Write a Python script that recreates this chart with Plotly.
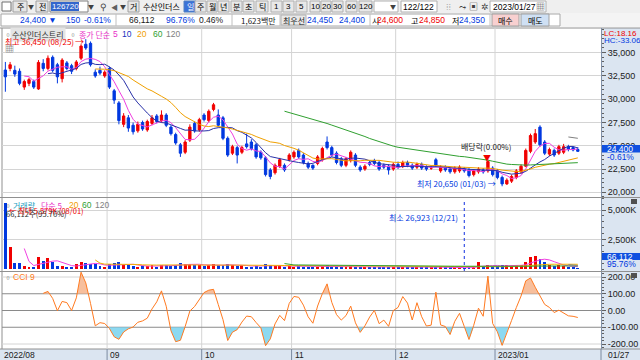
import numpy as np
import pandas as pd
import plotly.graph_objects as go

# ---------------- data (daily, 2022-08-01 .. 2023-01-27, 122 sessions) ----------------
opens = [33135, 33300, 33100, 33000, 31300, 31700, 31900, 31100, 33850, 33300, 34500, 33700, 32200, 33900, 33600, 33300, 34400, 35900, 36000, 32900, 33100, 32500,
         33300, 30900, 29600, 27300, 28000, 27200, 26600, 27500, 26700, 27400, 28200, 27700, 28300, 27000, 26200, 25100, 24300, 25600, 27400, 26700,
         28300, 27700, 28900, 28300, 28000, 25800, 24200, 24800, 24300, 25200, 25400, 25100, 24300, 23700, 22400, 22100, 22800, 22900, 23500,
         23800, 24500, 24000, 23100, 22900, 23100, 23500, 25400, 24800, 24200, 23600, 22900, 23400, 24000, 22700, 22500, 23200, 23400, 23200, 22900, 22800, 22500,
         23000, 22800, 23200, 22900, 22700, 23000, 22700, 22600, 23500, 22300, 22700, 22500, 22200, 22300, 22500, 22400, 21900, 22200, 22400, 22300, 22600,
         22300, 21600, 20900, 21200, 21600, 22200, 22800, 24400, 25400, 27000, 25400, 24100, 24500, 24200, 24300, 24900, 24800, 24600]
highs = [34000, 34000, 33600, 33300, 32100, 32300, 32100, 34200, 34300, 34700, 34700, 33900, 34400, 34100, 33800, 34200, 35900, 36450, 36200, 33200, 33500, 33100,
         33500, 31100, 29800, 28500, 28300, 27500, 27600, 27700, 27800, 28300, 28400, 28800, 28500, 27200, 26400, 25300, 25600, 27300, 27600, 28000,
         28500, 28900, 29600, 28900, 28200, 26000, 25100, 25000, 25000, 26300, 25700, 25300, 24500, 23900, 22600, 23100, 23700, 23100, 24200,
         24500, 24700, 24200, 23300, 23000, 24000, 24900, 26000, 25000, 24400, 23800, 23800, 24500, 24200, 22900, 23000, 23400, 23600, 23400, 23100, 23000, 23200,
         23300, 23400, 23400, 23100, 23200, 23200, 22900, 22900, 23700, 22900, 22900, 22700, 22800, 22900, 22700, 22600, 22500, 22700, 22600, 23500, 22800,
         22500, 21800, 21500, 21900, 22500, 23000, 24700, 26300, 26800, 27200, 25600, 24800, 24700, 25100, 25200, 25100, 24900, 24850]
lows = [30800, 33000, 32400, 31500, 31000, 31400, 31100, 31000, 33000, 33100, 32900, 31700, 31800, 33100, 32700, 33100, 34200, 35300, 33500, 32300, 32600, 32300,
        31100, 29500, 27300, 27000, 26500, 26200, 26400, 26600, 26500, 27200, 27400, 27500, 27000, 26100, 25100, 23800, 24100, 25400, 26400, 26500,
        27600, 27500, 28700, 27000, 25600, 23800, 24000, 23100, 24100, 24700, 24500, 23600, 23500, 21700, 21400, 21900, 22600, 22200, 23300,
        23600, 23600, 23000, 22500, 22400, 22900, 23300, 24600, 23800, 23000, 22700, 22700, 23200, 22700, 22200, 22300, 22800, 22900, 22300, 22500, 21900, 22300,
        22500, 22600, 22700, 22400, 22500, 22400, 22300, 22400, 22700, 22100, 22200, 22000, 22000, 22100, 22100, 21600, 21700, 22000, 22000, 22100, 21700,
        21400, 20650, 20800, 21000, 21400, 22000, 22700, 24200, 25200, 24900, 24000, 23900, 23800, 24000, 24100, 24400, 24400, 24350]
closes = [32400, 33700, 32700, 31700, 31900, 32100, 31300, 33950, 33300, 34400, 33100, 32400, 34200, 33300, 33000, 34000, 35700, 35500, 33700, 32500, 32800, 32900,
          31300, 29900, 27700, 28200, 26900, 26500, 27300, 26800, 27600, 28000, 27600, 28300, 27200, 26300, 25300, 24200, 25400, 27000, 26600, 27800,
          27800, 28700, 29400, 27200, 25800, 24000, 24900, 24000, 24800, 24900, 24700, 23800, 23700, 21900, 21700, 22900, 23500, 22400, 24000,
          24300, 23800, 23200, 22700, 22600, 23800, 24700, 24800, 24000, 23200, 22900, 23600, 24300, 22900, 22400, 22800, 23000, 23100, 22500, 22700, 22400, 23000,
          22700, 23200, 22900, 22600, 23000, 22600, 22500, 22600, 22900, 22700, 22400, 22200, 22600, 22700, 22300, 21800, 22300, 22500, 22200, 23300, 21900,
          21600, 20900, 21300, 21700, 22300, 22800, 24500, 26100, 26300, 25100, 24200, 24600, 24000, 24900, 24900, 24600, 24550, 24400]
volumes = [5579000, 1860000, 500000, 500000, 250000, 100000, 120000, 1000000, 680000, 930000, 600000, 250000, 250000, 170000, 170000, 420000, 600000, 500000, 420000, 420000, 250000, 100000,
           400000, 500000, 600000, 350000, 300000, 250000, 200000, 250000, 220000, 300000, 200000, 350000, 300000, 250000, 350000, 500000, 400000, 450000, 300000, 350000,
           250000, 300000, 400000, 300000, 350000, 450000, 300000, 250000, 300000, 200000, 200000, 250000, 200000, 400000, 300000, 250000, 300000, 200000, 250000,
           200000, 250000, 200000, 180000, 150000, 150000, 250000, 350000, 250000, 200000, 180000, 200000, 250000, 180000, 150000, 150000, 170000, 160000, 150000, 200000, 180000, 200000,
           180000, 170000, 160000, 150000, 150000, 140000, 150000, 160000, 180000, 150000, 160000, 150000, 130000, 140000, 26923, 120000, 150000, 600000, 170000, 300000, 200000,
           250000, 350000, 300000, 250000, 300000, 350000, 600000, 1000000, 1100000, 850000, 600000, 300000, 250000, 300000, 250000, 200000, 150000, 66112]

month_labels = ["2022/08", "09", "10", "11", "12", "2023/01"]
month_start = [0, 22, 42, 61, 83, 104]
price_ticks = [20000, 22500, 25000, 27500, 30000, 32500, 35000]
vol_ticks = [2500000, 5000000]
vol_tick_text = ["2,500K", "5,000K"]
cci_ticks = [-200, -100, 0, 100, 200]

# ---------------- derived series ----------------
n = len(closes)
idx = np.arange(n)
c = pd.Series(closes, dtype=float)
h = pd.Series(highs, dtype=float)
l = pd.Series(lows, dtype=float)
v = pd.Series(volumes, dtype=float)

def ma(s, k):
    return s.rolling(k).mean()

tp = (h + l + c) / 3
sma_tp = tp.rolling(9).mean()
md = tp.rolling(9).apply(lambda a: np.mean(np.abs(a - a.mean())), raw=True)
cci = (tp - sma_tp) / (0.015 * md)

W, H = 640, 360
def X(p): return p / W
def Y(p): return 1 - p / H

FONT = "Noto Sans CJK KR"
NUMF = "Liberation Sans"
RED = "#f00000"
BLUE = "#0038e0"

PLOT_L, PLOT_R = 2, 601
PRICE_T, PRICE_B = 28, 197
VOL_T, VOL_B = 198, 271
CCI_T, CCI_B = 272, 349

def price_at(ypx):
    return 20000 + (192.3 - ypx) * 107.4
def vol_at(ypx):
    return (269 - ypx) * 84746
def cci_at(ypx):
    return (310.5 - ypx) / 0.1675

fig = go.Figure()

# price
fig.add_trace(go.Candlestick(x=idx, open=opens, high=highs, low=lows, close=closes,
                             increasing=dict(line=dict(color=RED, width=1), fillcolor=RED),
                             decreasing=dict(line=dict(color=BLUE, width=1), fillcolor=BLUE),
                             whiskerwidth=0, xaxis="x", yaxis="y", hoverinfo="skip"))
for k, col in [(5, "#f040e0"), (10, "#2830a8"), (20, "#f0a000"), (60, "#30a030"), (120, "#808080")]:
    fig.add_trace(go.Scatter(x=idx, y=ma(c, k), mode="lines", line=dict(color=col, width=1),
                             xaxis="x", yaxis="y", hoverinfo="skip"))

# volume
vcol = [RED if closes[i] >= opens[i] else BLUE for i in range(n)]
fig.add_trace(go.Bar(x=idx, y=volumes, marker=dict(color=vcol, line=dict(width=0)), width=0.62,
                     xaxis="x", yaxis="y2", hoverinfo="skip"))
for k, col in [(5, "#f040e0"), (20, "#f0b000"), (60, "#30a030"), (120, "#808080")]:
    fig.add_trace(go.Scatter(x=idx, y=ma(v, k), mode="lines", line=dict(color=col, width=1),
                             xaxis="x", yaxis="y2", hoverinfo="skip"))

# cci fills
def dense(xs, ys, level):
    ox, oy = [], []
    for i in range(len(xs)):
        if np.isnan(ys[i]):
            continue
        if ox and not np.isnan(ys[i - 1]):
            y0, y1 = ys[i - 1], ys[i]
            if (y0 - level) * (y1 - level) < 0:
                t = (level - y0) / (y1 - y0)
                ox.append(xs[i - 1] + t)
                oy.append(level)
        ox.append(xs[i]); oy.append(ys[i])
    return np.array(ox), np.array(oy)

cv = cci.values
for level, fc, up in [(100, "rgba(246,180,140,0.85)", True), (-100, "rgba(120,210,238,0.85)", False)]:
    dx, dy = dense(idx.astype(float), cv, level)
    clip = np.maximum(dy, level) if up else np.minimum(dy, level)
    fig.add_trace(go.Scatter(x=dx, y=np.full(len(dx), level), mode="lines", line=dict(width=0),
                             xaxis="x", yaxis="y3", hoverinfo="skip"))
    fig.add_trace(go.Scatter(x=dx, y=clip, mode="lines", line=dict(width=0), fill="tonexty",
                             fillcolor=fc, xaxis="x", yaxis="y3", hoverinfo="skip"))
fig.add_trace(go.Scatter(x=idx, y=cci, mode="lines", line=dict(color="#ff7a20", width=1),
                         xaxis="x", yaxis="y3", hoverinfo="skip"))

# ---------------- shapes ----------------
shapes = []
def rect(x0, y0, x1, y1, fill=None, line=None, lw=1, layer="below"):
    shapes.append(dict(type="rect", xref="paper", yref="paper", x0=X(x0), x1=X(x1), y0=Y(y0), y1=Y(y1),
                       fillcolor=fill, line=dict(color=line or "rgba(0,0,0,0)", width=lw if line else 0), layer=layer))
def hline(x0, x1, ypx, color, w=1, dash=None, layer="below"):
    shapes.append(dict(type="line", xref="paper", yref="paper", x0=X(x0), x1=X(x1), y0=Y(ypx), y1=Y(ypx),
                       line=dict(color=color, width=w, dash=dash), layer=layer))
def vline(xpx, y0, y1, color, w=1, dash=None, layer="below"):
    shapes.append(dict(type="line", xref="paper", yref="paper", x0=X(xpx), x1=X(xpx), y0=Y(y0), y1=Y(y1),
                       line=dict(color=color, width=w, dash=dash), layer=layer))

# header
rect(0, 0, 640, 13, fill="#efefef")
rect(0, 13, 640, 27, fill="#f4f4f4")
rect(1, 14, 560, 26, fill="#ffffff", line="#a8a8a8")
for xs in [116, 232, 280, 370, 490]:
    vline(xs, 14, 26, "#c0c0c0")
rect(281, 15, 306, 25, fill="#e8e8e8", line="#b0b0b0")
rect(492, 14, 519, 26, fill="#f8d0d0", line="#a0a0a0")
rect(521, 14, 549, 26, fill="#cfe0f4", line="#a0a0a0")
rect(2, 2, 11, 11, fill="#ffffff", line="#707070")
rect(13, 1, 27, 12, fill="#e6e6e6", line="#a0a0a0")
rect(36, 1, 48, 12, fill="#e6e6e6", line="#a0a0a0")
rect(50, 1, 88, 12, fill="#ffffff", line="#808080")
rect(51, 2, 79, 11, fill="#3366cc")
rect(128, 1, 139, 12, fill="#e6e6e6", line="#a0a0a0")
rect(184, 1, 196, 12, fill="#3a72d8", line="#5080c0")
btn_l = [195, 207, 218, 231, 243, 256, 271, 283, 296, 310, 321, 332, 346, 359]
btn_r = [206, 217, 229, 242, 254, 268, 282, 294, 307, 320, 331, 343, 357, 372]
for a, b in zip(btn_l, btn_r):
    rect(a, 1, b, 12, fill="#e8e8e8", line="#b0b0b0")
rect(374, 1, 398, 12, fill="#ffffff", line="#b0b0b0")
rect(401, 1, 437, 12, fill="#ffffff", line="#b0b0b0")
rect(490, 1, 546, 12, fill="#ffffff", line="#b0b0b0")

# chart frame
rect(PLOT_L, PRICE_T, 640, CCI_B, fill="#ffffff")
rect(PLOT_R, PRICE_T, 640, CCI_B, fill="#dbe5f1")
rect(0, CCI_B, 640, 360, fill="#dbe5f1")
hline(0, 640, PRICE_T, "#909090")
hline(0, 640, VOL_B + 0.5, "#909090")
hline(0, 640, PRICE_B + 0.5, "#909090")
vline(PLOT_L, PRICE_T, CCI_B, "#909090")
hline(0, 640, CCI_B, "#909090")

# month grid lines
for ms in month_start[1:]:
    for (t, b) in [(PRICE_T, PRICE_B), (VOL_T, VOL_B), (CCI_T, CCI_B)]:
        shapes.append(dict(type="line", xref="x", yref="paper", x0=ms - 0.5, x1=ms - 0.5, y0=Y(b), y1=Y(t),
                           line=dict(color="#d4d4d4", width=1), layer="below"))
    shapes.append(dict(type="line", xref="x", yref="paper", x0=ms - 0.5, x1=ms - 0.5, y0=Y(360), y1=Y(CCI_B),
                       line=dict(color="#7a8aa0", width=1), layer="above"))
shapes.append(dict(type="line", xref="paper", yref="paper", x0=X(PLOT_R), x1=X(PLOT_R), y0=Y(360), y1=Y(CCI_B),
                   line=dict(color="#7a8aa0", width=1), layer="above"))

# cci level lines
for lv, col in [(100, "#8a8a8a"), (-100, "#8a8a8a"), (0, "#8a8a8a"), (200, "#d4d4d4"), (-200, "#d4d4d4")]:
    shapes.append(dict(type="line", xref="paper", yref="y3", x0=X(PLOT_L), x1=X(PLOT_R), y0=lv, y1=lv,
                       line=dict(color=col, width=1), layer="below"))

# min volume dotted line (12/21)
shapes.append(dict(type="line", xref="x", yref="paper", x0=97, x1=97, y0=Y(VOL_B), y1=Y(VOL_T + 2),
                   line=dict(color="#1030e0", width=1, dash="dot"), layer="above"))

# right-axis value boxes and panel icons
rect(PLOT_R + 1, 145, 640, 152.5, fill="#1050e0", layer="above")
rect(PLOT_R + 1, 253, 640, 260, fill="#1050e0", layer="above")
rect(631, 199, 637, 204, fill="#505050", layer="above")
rect(631, 273, 637, 278, fill="#505050", layer="above")

# ---------------- annotations ----------------
ann = []
def txt(x, y, s, color="#000000", size=8, xanchor="left", family=FONT, bg=None):
    d = dict(x=X(x), y=Y(y), xref="paper", yref="paper", text=s, showarrow=False, xanchor=xanchor,
             yanchor="middle", font=dict(color=color, size=size, family=family))
    if bg:
        d["bgcolor"] = bg
    ann.append(d)

NS = 8.5  # numeric font size

# row 1
txt(20, 6.5, "주", xanchor="center")
txt(31, 6.5, "▼", size=6, xanchor="center", color="#404040")
txt(42, 6.5, "전", xanchor="center")
txt(65, 6.5, "126720", size=8, color="#ffffff", family=NUMF, xanchor="center")
txt(91, 6.5, "▼", size=6, xanchor="center", color="#404040")
txt(103, 6.5, "⚲", size=9, xanchor="center", color="#404040")
txt(114, 6.5, "◀", size=7, xanchor="center", color="#606060")
txt(123, 6.5, "▼", size=6, xanchor="center", color="#404040")
txt(133.5, 6.5, "거", xanchor="center")
txt(141, 6.5, "수산인더스")
txt(190, 6.5, "일", xanchor="center", color="#ffffff")
btn_lab = ["주", "월", "년", "분", "초", "틱", "1", "3", "5", "10", "20", "30", "60", "120"]
for a, b, s in zip(btn_l, btn_r, btn_lab):
    dig = s.isdigit()
    txt((a + b) / 2, 6.5, s, size=8, xanchor="center", family=NUMF if dig else FONT)
txt(393, 6.5, "▼", size=6, xanchor="center", color="#404040")
txt(418, 6.5, "122/122", size=NS, xanchor="center", family=NUMF)
txt(448, 6.5, "⁞⁞", size=9, xanchor="center", color="#a0a0a0")
txt(462, 6.5, "⤳", size=9, xanchor="center", color="#404040")
txt(473, 6.5, "▣", size=9, xanchor="center", color="#404040")
txt(485, 6.5, "✲", size=9, xanchor="center", color="#404040")
txt(514, 6.5, "2023/01/27", size=NS, xanchor="center", family=NUMF)
txt(540, 6.5, "▦", size=9, xanchor="center", color="#404040")

# row 2
txt(18, 20, "24,400 ▼", color=BLUE, family=NUMF, size=NS)
txt(82, 20, "150", color=BLUE, xanchor="right", family=NUMF, size=NS)
txt(113, 20, "-0.61%", color=BLUE, xanchor="right", family=NUMF, size=NS)
txt(157, 20, "66,112", color="#202020", xanchor="right", family=NUMF, size=NS)
txt(197, 20, "96.76%", color=BLUE, xanchor="right", family=NUMF, size=NS)
txt(226, 20, "0.46%", color="#202020", xanchor="right", family=NUMF, size=NS)
txt(278, 20, "1,623백만", color="#202020", xanchor="right")
txt(293.5, 20, "최우선", color="#202020", xanchor="center")
txt(335, 20, "24,450", color=BLUE, xanchor="right", family=NUMF, size=NS)
txt(367, 20, "24,400", color=BLUE, xanchor="right", family=NUMF, size=NS)
txt(375, 20, "시", xanchor="center")
txt(405, 20, "24,600", color=RED, xanchor="right", family=NUMF, size=NS)
txt(414, 20, "고", xanchor="center")
txt(447, 20, "24,850", color=RED, xanchor="right", family=NUMF, size=NS)
txt(455, 20, "저", xanchor="center")
txt(487, 20, "24,350", color=BLUE, xanchor="right", family=NUMF, size=NS)
txt(505.5, 20, "매수", xanchor="center")
txt(535, 20, "매도", xanchor="center")

# price legend
txt(2, 34, "▫", size=8, color="#404040")
txt(10, 34, "수산인더스트리", color="#303030", bg="#e4e4e4")
txt(67, 34, "▫", size=8, color="#404040")
txt(77, 34, "종가 단순", color="#e830c8")
txt(111, 34, "5", color="#e830c8", family=NUMF, size=NS)
txt(120, 34, "10", color="#2030c0", family=NUMF, size=NS)
txt(135, 34, "20", color="#f0a000", family=NUMF, size=NS)
txt(151, 34, "60", color="#30a030", family=NUMF, size=NS)
txt(164, 34, "120", color="#808080", family=NUMF, size=NS)
txt(3, 41.5, "최고 36,450 (08/25)", color=RED)
txt(73, 41.5, "→", color=RED, size=9)
txt(3, 49, "▦", size=9, color="#505050")
txt(602, 33, "LC:18.16", color=RED, size=8, family=NUMF)
txt(602, 40.5, "HC:-33.06", color=BLUE, size=8, family=NUMF)

txt(486, 146, "배당락(0.00%)", color="#202020", xanchor="center")
txt(487, 157, "▼", size=8, xanchor="center", color=RED)
txt(498, 183.5, "최저 20,650 (01/03) →", color=BLUE, xanchor="right")

# current price labels
txt(605, 148.8, "24,400", color="#ffffff", family=NUMF, size=NS)
txt(605, 156.5, "-0.61%", color=BLUE, family=NUMF, size=NS)

# volume legend
txt(2, 205, "▫", size=8, color="#404040")
txt(11, 205, "거래량", color="#20a0c0")
txt(39, 205, "단순 5", color="#e830c8")
txt(67, 205, "20", color="#f0a000", family=NUMF, size=NS)
txt(80, 205, "60", color="#30a030", family=NUMF, size=NS)
txt(93, 205, "120", color="#808080", family=NUMF, size=NS)
txt(7, 210, "← 최대 5,579K (08/01)", color=RED, size=7.5)
txt(4, 213.5, "66,112주(95.76%)", color="#303030", size=7.5)
txt(460, 217, "최소 26,923 (12/21)", color=BLUE, xanchor="right")
txt(605, 256.5, "66,112", color="#ffffff", family=NUMF, size=NS)
txt(605, 263.5, "95.76%", color=BLUE, family=NUMF, size=NS)

# cci legend
txt(2, 277, "▫", size=8, color="#404040")
txt(11, 277, "CCI 9", color="#ff7a20", family=NUMF, size=NS)

# date labels
for ms, lab in zip(month_start, month_labels):
    xp = 3 + ms * 4.73
    txt(xp + 1 if ms else 2, 355, lab, size=NS, family=NUMF, color="#202020")
txt(606, 355, "01/27", size=NS, family=NUMF, color="#202020")

axis_font = dict(family=NUMF, size=9, color="#202020")
fig.update_layout(
    width=W, height=H, margin=dict(l=0, r=0, t=0, b=0),
    paper_bgcolor="#ffffff", plot_bgcolor="rgba(0,0,0,0)",
    showlegend=False, bargap=0,
    xaxis=dict(domain=[X(PLOT_L), X(PLOT_R)], range=[-0.71, 125.9], anchor="y3",
               showticklabels=False, showgrid=False, zeroline=False, ticks="",
               rangeslider=dict(visible=False), fixedrange=True),
    yaxis=dict(domain=[Y(PRICE_B), Y(PRICE_T)], range=[price_at(PRICE_B), price_at(PRICE_T)],
               anchor="x", side="right", tickmode="array", tickvals=price_ticks,
               ticktext=[f"{t:,}" for t in price_ticks], tickfont=axis_font,
               ticks="outside", ticklen=4, tickcolor="#606060", showline=True, linecolor="#8090a8",
               showgrid=True, gridcolor="#d4d4d4", zeroline=False,
               minor=dict(ticks="outside", ticklen=2, dtick=500, tick0=0, tickcolor="#606060", showgrid=False)),
    yaxis2=dict(domain=[Y(VOL_B), Y(VOL_T)], range=[vol_at(VOL_B), vol_at(VOL_T)],
                anchor="x", side="right", tickmode="array", tickvals=vol_ticks, ticktext=vol_tick_text,
                tickfont=axis_font, ticks="outside", ticklen=4, tickcolor="#606060",
                showline=True, linecolor="#8090a8", showgrid=True, gridcolor="#d4d4d4", zeroline=False,
                minor=dict(ticks="outside", ticklen=2, dtick=500000, tick0=0, tickcolor="#606060", showgrid=False)),
    yaxis3=dict(domain=[Y(CCI_B), Y(CCI_T)], range=[cci_at(CCI_B), cci_at(CCI_T)],
                anchor="x", side="right", tickmode="array", tickvals=cci_ticks,
                ticktext=[f"{t:.2f}" for t in cci_ticks], tickfont=axis_font,
                ticks="outside", ticklen=4, tickcolor="#606060", showline=True, linecolor="#8090a8",
                showgrid=False, zeroline=False,
                minor=dict(ticks="outside", ticklen=2, dtick=20, tick0=0, tickcolor="#606060", showgrid=False)),
    shapes=shapes, annotations=ann,
)

fig.write_html("out.html", config={"displayModeBar": False},
               post_script="document.body.style.margin='0';document.body.style.overflow='hidden';")
